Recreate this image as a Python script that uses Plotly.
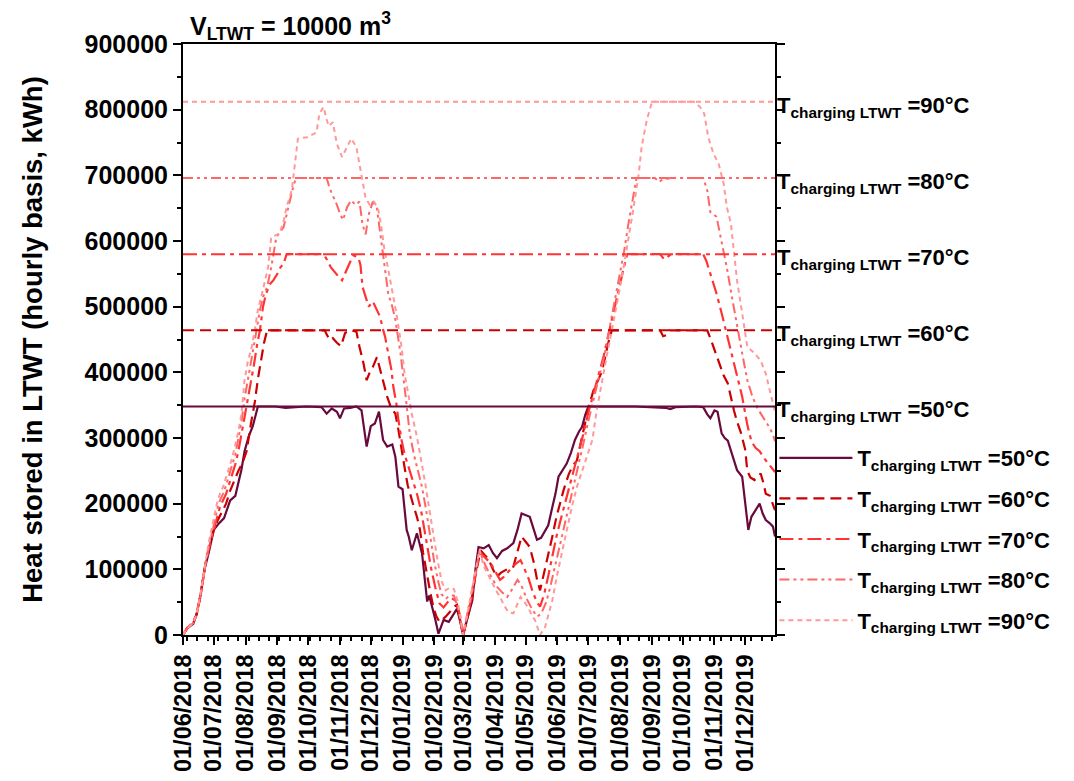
import pandas as pd
import plotly.graph_objects as go

START = pd.Timestamp("2018-06-01")
X_END = "2019-12-30"

# ---- series: day offset from 01/06/2018 and heat stored (kWh) ----
s50_days = [0,4,10,13,17,21,25,30,35,40,46,51,57,60,64,68,73,90,100,120,135,140,145,150,153,157,163,169,174,177,179,183,187,191,195,199,204,207,210,214,218,220,223,228,233,238,240,246,249,254,259,263,267,270,273,278,282,285,288,293,298,302,306,311,316,322,326,330,334,338,342,345,349,353,356,360,363,366,370,374,378,382,386,389,392,395,440,470,475,480,500,507,511,514,518,521,525,528,531,535,540,545,548,551,554,558,562,565,568,572,575,577]
s50_vals = [0,10000,17000,30000,60000,100000,125000,160000,170000,178000,205000,212000,252000,280000,302000,318000,348000,348000,346000,348000,347000,337000,345000,340000,330000,345000,346000,348000,342000,307000,287000,318000,322000,340000,297000,287000,290000,271000,226000,222000,160000,150000,129000,155000,124000,51000,60000,23000,2000,23000,20000,30000,40000,22000,0,30000,53000,99000,134000,132000,137000,125000,117000,128000,132000,140000,160000,185000,183000,180000,160000,145000,148000,158000,167000,195000,215000,241000,252000,261000,277000,297000,310000,317000,335000,348000,348000,346000,344000,347000,348000,347000,336000,330000,342000,340000,307000,300000,296000,276000,251000,241000,200000,160000,180000,190000,200000,185000,175000,170000,165000,150000]

s60_days = [0,4,10,14,18,22,26,30,34,38,42,46,50,54,58,62,66,70,73,76,79,82,138,140,143,146,150,154,158,163,169,172,176,179,182,185,189,192,195,199,203,207,210,213,216,219,222,225,228,231,234,238,241,244,247,250,253,256,260,263,267,270,273,277,281,285,290,294,298,302,306,310,314,318,322,326,330,334,338,342,345,348,352,356,360,364,368,371,376,380,384,388,391,395,400,404,408,411,414,418,465,468,472,475,511,514,517,520,524,527,531,534,537,540,544,548,550,553,557,560,563,566,568,572,575,577]
s60_vals = [0,10000,18000,35000,70000,110000,138000,160000,175000,188000,200000,220000,235000,250000,262000,280000,320000,355000,390000,420000,445000,464000,464000,458000,449000,452000,445000,440000,460000,464000,462000,439000,413000,388000,400000,408000,423000,405000,388000,363000,345000,337000,312000,280000,255000,228000,210000,195000,180000,160000,125000,89000,65000,43000,28000,20000,24000,28000,35000,42000,46000,22000,0,25000,50000,90000,129000,122000,115000,100000,89000,95000,99000,102000,104000,125000,150000,142000,134000,110000,85000,68000,95000,119000,150000,180000,205000,221000,245000,258000,266000,295000,318000,345000,372000,385000,400000,420000,442000,464000,464000,455000,457000,464000,464000,452000,439000,425000,408000,395000,383000,360000,342000,325000,307000,282000,250000,240000,236000,240000,246000,230000,215000,212000,200000,190000]

s70_days = [0,4,10,14,17,21,25,29,33,36,39,42,45,48,51,54,57,60,63,66,69,72,75,78,81,85,88,92,95,98,101,137,141,144,148,152,155,158,162,166,171,173,175,178,181,185,189,192,195,197,200,203,205,208,210,213,216,220,224,228,232,236,239,242,246,250,254,258,262,266,270,273,277,281,285,289,292,296,300,305,309,314,319,324,329,333,337,341,345,348,352,356,361,364,368,375,380,385,390,395,400,405,410,415,420,425,429,433,465,469,472,476,507,510,513,516,520,525,530,535,540,545,550,554,558,562,566,570,574,577]
s70_vals = [0,11000,19000,38000,58000,100000,130000,155000,180000,195000,205000,215000,230000,245000,260000,280000,305000,330000,355000,385000,410000,440000,464000,500000,520000,535000,540000,550000,560000,565000,580000,580000,570000,560000,552000,545000,540000,552000,565000,578000,575000,563000,530000,515000,500000,508000,495000,485000,465000,454000,429000,405000,378000,352000,327000,297000,275000,255000,235000,215000,190000,155000,125000,100000,72000,48000,42000,50000,56000,52000,30000,0,28000,55000,92000,125000,122000,115000,109000,95000,84000,90000,100000,108000,114000,100000,85000,65000,50000,43000,62000,90000,129000,150000,175000,215000,245000,275000,305000,338000,368000,395000,425000,460000,495000,530000,555000,580000,580000,572000,575000,580000,580000,570000,555000,540000,520000,490000,459000,424000,393000,363000,320000,295000,285000,280000,270000,262000,255000,248000]

s80_days = [0,4,10,13,17,21,25,29,33,36,39,42,45,48,51,54,57,60,63,66,70,75,78,82,86,91,95,98,101,104,107,110,140,143,147,150,153,156,160,164,168,172,175,178,181,185,189,192,195,197,200,204,207,212,215,217,221,225,229,233,237,241,245,249,252,256,260,264,268,273,277,281,285,289,292,295,300,306,311,316,321,326,330,335,340,345,349,354,358,362,366,372,378,384,390,395,400,405,410,415,420,425,430,434,438,442,460,464,467,475,507,511,514,517,520,524,530,535,540,545,550,555,560,564,568,572,575,577]
s80_vals = [0,10000,18000,30000,60000,100000,135000,160000,190000,205000,215000,228000,245000,258000,275000,300000,325000,360000,385000,410000,449000,495000,515000,530000,560000,606000,615000,621000,640000,662000,680000,696000,696000,680000,667000,655000,642000,632000,652000,662000,655000,660000,625000,610000,640000,660000,650000,616000,580000,556000,520000,500000,480000,429000,393000,363000,307000,275000,250000,225000,190000,150000,110000,80000,62000,55000,60000,60000,42000,0,30000,60000,95000,128000,115000,105000,90000,73500,65000,58000,70000,84000,75000,55000,40000,28000,32000,50000,73500,100000,129000,170000,210000,250000,290000,325000,360000,390000,420000,460000,500000,540000,585000,625000,660000,696000,696000,690000,693000,696000,696000,677000,644000,640000,637000,606000,560000,515000,469000,429000,388000,363000,345000,335000,325000,315000,305000,295000]

s90_days = [0,4,10,13,17,21,25,29,33,36,39,42,45,48,51,54,57,60,63,67,70,73,77,80,83,86,90,94,98,101,106,109,112,116,121,126,130,133,137,140,142,146,150,155,159,164,169,172,175,178,182,186,190,193,196,199,203,208,213,216,220,223,228,232,236,240,244,248,252,256,260,264,268,273,277,281,285,289,293,296,300,305,309,313,317,322,325,329,333,337,340,343,348,353,356,360,365,370,374,379,384,389,394,399,403,408,413,418,422,426,430,434,438,441,444,447,452,455,457,498,504,508,512,517,522,527,530,534,537,540,545,550,557,563,568,573,577]
s90_vals = [0,10000,18000,30000,62000,105000,140000,170000,200000,215000,225000,240000,255000,270000,290000,310000,337000,388000,415000,439000,465000,495000,520000,540000,560000,606000,608000,611000,630000,652000,677000,718000,756000,757000,758000,762000,765000,794000,804000,785000,775000,781000,748000,728000,740000,756000,743000,715000,690000,665000,655000,660000,650000,625000,590000,565000,530000,490000,439000,398000,363000,337000,302000,268000,232000,192000,152000,115000,82000,68000,72000,70000,50000,0,30000,62000,98000,130000,105000,95000,84000,68000,58000,45000,35000,33000,45000,58000,50000,40000,30000,23000,0,12600,30000,53000,94000,130000,160000,195000,226000,250000,276000,297000,340000,385000,425000,464000,500000,530000,565000,600000,640000,670000,700000,743000,784000,800000,812000,812000,804000,794000,758000,733000,718000,687000,652000,627000,581000,540000,490000,439000,429000,418000,398000,363000,340000]

temps = ["50°C", "60°C", "70°C", "80°C", "90°C"]
cap_values = [348000, 464000, 580000, 696000, 812000]
y_ticks = [0, 100000, 200000, 300000, 400000, 500000, 600000, 700000, 800000, 900000]

series_days = [s50_days, s60_days, s70_days, s80_days, s90_days]
series_vals = [s50_vals, s60_vals, s70_vals, s80_vals, s90_vals]

colors = ["#690A3D", "#CC0000", "#FF3333", "#FF6666", "#FF9999"]
dashes = ["solid", "11px,6px", "14px,5px,4px,5px", "10px,4px,3px,4px,3px,4px", "5px,4px"]
widths = [2.2, 2.2, 2.2, 2.0, 2.0]

FONT = "Liberation Sans, Arial, sans-serif"

fig = go.Figure()
for t, d, v, c, dash, w in zip(temps, series_days, series_vals, colors, dashes, widths):
    x = START + pd.to_timedelta(d, unit="D")
    fig.add_trace(go.Scatter(
        x=x, y=v, mode="lines",
        name=f"T<sub>charging LTWT</sub> ={t}",
        legendgroup=t,
        line=dict(color=c, dash=dash, width=w),
    ))

# horizontal charging-temperature caps and their labels
for t, cap, c, dash in zip(temps, cap_values, colors, dashes):
    fig.add_shape(type="line", xref="paper", x0=0, x1=1, yref="y", y0=cap, y1=cap,
                  line=dict(color=c, dash=dash, width=2.2 if t == "50°C" else 2.0), layer="above")
    fig.add_annotation(xref="paper", x=1.0, xanchor="left", xshift=0,
                       yref="y", y=cap, yanchor="middle", yshift=-5,
                       text=f"T<sub>charging LTWT</sub> ={t}", showarrow=False,
                       font=dict(family=FONT, size=22, color="black", weight="bold"))

fig.add_annotation(xref="paper", x=0.008, xanchor="left", yref="paper", y=1.0, yanchor="bottom", yshift=-2,
                   text="V<sub>LTWT</sub> = 10000 m<sup>3</sup>", showarrow=False,
                   font=dict(family=FONT, size=25, color="black", weight="bold"))

# figure is placed inside the page's default 8px body margin
fig.update_layout(
    width=1066, height=773,
    margin=dict(l=175, r=299, t=36, b=146),
    paper_bgcolor="white", plot_bgcolor="white",
    font=dict(family=FONT, color="black", weight="bold"),
    showlegend=True,
    legend=dict(x=0.999, xanchor="left", y=0.335, yanchor="top",
                font=dict(family=FONT, size=22, color="black", weight="bold"),
                itemwidth=73, tracegroupgap=9, traceorder="grouped",
                bgcolor="rgba(0,0,0,0)"),
)
fig.update_xaxes(
    type="date", range=[START.strftime("%Y-%m-%d"), X_END], automargin=False,
    dtick="M1", tick0="2018-06-01", tickformat="%d/%m/%Y", tickangle=-90,
    tickfont=dict(family=FONT, size=23.5, color="black", weight="bold"),
    ticks="outside", ticklen=8, tickwidth=2, tickcolor="black",
    minor=dict(dtick=10 * 86400000, ticks="outside", ticklen=4, tickwidth=1.5, tickcolor="black"),
    showline=True, linewidth=2, linecolor="black", mirror=True,
    showgrid=False, zeroline=False,
)
fig.update_yaxes(
    range=[0, 900000], tickvals=y_ticks, tickformat="d", automargin=False,
    tickfont=dict(family=FONT, size=25, color="black", weight="bold"),
    ticks="outside", ticklen=8, tickwidth=2, tickcolor="black",
    minor=dict(dtick=50000, ticks="outside", ticklen=4, tickwidth=1.5, tickcolor="black"),
    showline=True, linewidth=2, linecolor="black", mirror="ticks",
    showgrid=False, zeroline=False,
    title=dict(text="Heat stored in LTWT (hourly basis, kWh)", standoff=34,
               font=dict(family=FONT, size=27.5, color="black", weight="bold")),
)

fig.write_html("out.html")
